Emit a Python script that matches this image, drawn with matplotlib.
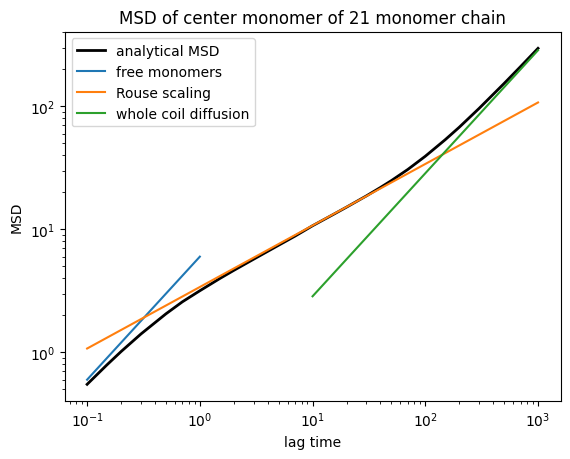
from matplotlib import pyplot as plt

# analytical MSD of center monomer
t_msd = [0.1, 0.15, 0.2, 0.3, 0.5, 0.7, 1.0, 1.5, 2.0, 3.0, 5.0, 7.0, 10.0,
         15.0, 20.0, 30.0, 40.0, 50.0, 70.0, 100.0, 150.0, 200.0, 300.0,
         500.0, 700.0, 1000.0]
msd = [0.55, 0.792, 1.015, 1.41, 2.057, 2.577, 3.17, 3.98, 4.64, 5.72, 7.43, 8.82, 10.7,
       13.1, 15.15, 18.7, 21.9, 24.9, 30.7, 39.3, 53.5, 67.6, 96.2,
       153.4, 210.5, 296.2]

# free monomers
t_free = [0.1, 1.0]
msd_free = [0.6, 6.0]

# Rouse scaling
t_rouse = [0.1, 1.0, 10.0, 100.0, 1000.0]
msd_rouse = [1.075, 3.4, 10.75, 34.0, 107.5]

# whole coil diffusion
t_coil = [10.0, 1000.0]
msd_coil = [2.857, 285.7]

plt.figure(figsize=(6.4, 4.8), dpi=100)
plt.plot(t_msd, msd, color='black', linewidth=2, label='analytical MSD')
plt.plot(t_free, msd_free, label='free monomers')
plt.plot(t_rouse, msd_rouse, label='Rouse scaling')
plt.plot(t_coil, msd_coil, label='whole coil diffusion')
plt.xscale('log')
plt.yscale('log')
plt.xlabel('lag time')
plt.ylabel('MSD')
plt.title('MSD of center monomer of 21 monomer chain')
plt.legend(loc='upper left')
plt.savefig('out.png', bbox_inches='tight')
